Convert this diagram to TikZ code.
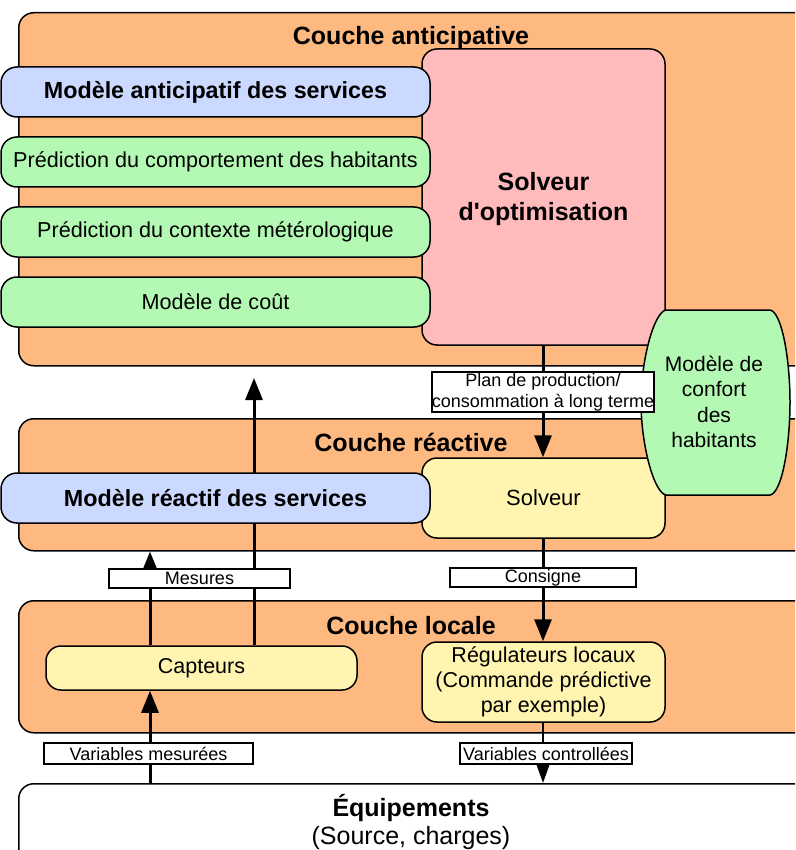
\documentclass[tikz,border=0pt]{standalone}
\usepackage{fontspec}
\setmainfont{Liberation Sans}[Ligatures=TeXOff]
\usetikzlibrary{arrows.meta}
\definecolor{orangeL}{HTML}{FDB97F}
\definecolor{blueM}{HTML}{CCD9FF}
\definecolor{greenM}{HTML}{B3F9B3}
\definecolor{pinkS}{HTML}{FFBBBB}
\definecolor{yellowS}{HTML}{FFF5B0}
\tikzset{
  layer/.style={draw=black, line width=1.5pt, fill=orangeL, rounded corners=15pt, inner sep=0pt},
  box/.style={draw=black, line width=1.5pt, rounded corners=16pt, inner sep=0pt, align=center},
  lbl/.style={draw=black, line width=1.2pt, fill=white, inner sep=0pt, align=center, font=\fontsize{18}{21}\selectfont},
  title/.style={font=\fontsize{25}{28}\selectfont\bfseries, inner sep=0pt},
  arr/.style={line width=3pt, -{Triangle[length=22pt,width=17pt]}},
}
\begin{document}
\begin{tikzpicture}[x=1pt,y=-1pt]
\clip (0,0) rectangle (795,850);
\fill[white] (0,0) rectangle (795,850);
% layers
\node[layer, minimum width=800pt, minimum height=353pt, anchor=north west] (antic) at (18,12) {};
\node[layer, minimum width=800pt, minimum height=132pt, anchor=north west] (react) at (18,418) {};
\node[layer, minimum width=800pt, minimum height=132pt, anchor=north west] (local) at (18,600) {};
\node[layer, fill=white, minimum width=800pt, minimum height=100pt, anchor=north west] (equip) at (18,783) {};
\node[title] (tantic) at (411,38) {Couche anticipative};
\node[title] (treact) at (411,442) {Couche réactive};
\node[title] (tlocal) at (411,626) {Couche locale};
\node[title] (tequip) at (411,808) {Équipements};
\node[font=\fontsize{25}{28}\selectfont, inner sep=0pt] (tequip2) at (411,838) {(Source, charges)};
% reference x positions
\coordinate (xa) at (150,0);
\coordinate (xb) at (254,0);
\coordinate (xc) at (543,0);
\coordinate (tipb) at (254,378);
% inner boxes (under)
\node[box, fill=pinkS, rounded corners=15pt, minimum width=243pt, minimum height=296pt, font=\fontsize{25}{30}\selectfont\bfseries] (solvopt) at (543.5,197) {};
\node[align=center, inner sep=0pt, font=\fontsize{25}{30}\selectfont\bfseries] (solvopttxt) at (543.5,199) {Solveur\\d'optimisation};
\node[box, fill=yellowS, rounded corners=15pt, minimum width=243pt, minimum height=80pt, font=\fontsize{22}{25}\selectfont] (solv) at (543.5,498) {Solveur};
\node[box, fill=yellowS, rounded corners=15pt, minimum width=243pt, minimum height=80pt, font=\fontsize{21.5}{25}\selectfont] (reg) at (543.5,682) {Régulateurs locaux\\(Commande prédictive\\par exemple)};
\node[box, fill=yellowS, rounded corners=15pt, minimum width=311pt, minimum height=44pt, font=\fontsize{21.5}{25}\selectfont] (capt) at (201.5,668) {Capteurs};
% arrows
\draw[arr] (capt.north -| xb) -- (tipb);
\draw[arr] (capt.north -| xa) -- (react.south -| xa);
\draw[arr] (equip.north -| xa) -- (capt.south -| xa);
\draw[arr] (solvopt.south -| xc) -- (solv.north -| xc);
\draw[arr] (solv.south -| xc) -- (reg.north -| xc);
\draw[line width=2.2pt, -{Triangle[length=19pt,width=13pt]}] (reg.south -| xc) -- (equip.north -| xc);
% model boxes
\node[box, fill=blueM, minimum width=429pt, minimum height=50pt, font=\fontsize{23.3}{26}\selectfont\bfseries] (mas) at (215.5,92) {Modèle anticipatif des services};
\node[box, fill=greenM, minimum width=429pt, minimum height=50pt, font=\fontsize{21.6}{25}\selectfont] (pch) at (215.5,162) {Prédiction du comportement des habitants};
\node[box, fill=greenM, minimum width=429pt, minimum height=50pt, font=\fontsize{21.6}{25}\selectfont] (pcm) at (215.5,232) {Prédiction du contexte métérologique};
\node[box, fill=greenM, minimum width=429pt, minimum height=50pt, font=\fontsize{21.6}{25}\selectfont] (cout) at (215.5,302) {Modèle de coût};
\node[box, fill=blueM, minimum width=429pt, minimum height=50pt, font=\fontsize{23.3}{26}\selectfont\bfseries] (mrs) at (215.5,498) {Modèle réactif des services};
% confort barrel
\draw[line width=1.5pt, fill=greenM] (666,310) -- (770,310) .. controls (782,312) and (790,360) .. (790,402) .. controls (790,445) and (782,493) .. (770,495) -- (666,495) .. controls (654,493) and (641,445) .. (641,402) .. controls (641,360) and (654,312) .. (666,310) -- cycle;
\node[align=center, font=\fontsize{21}{25.3}\selectfont, inner sep=0pt] (conf) at (714,402) {Modèle de\\confort\\des\\habitants};
% labels
\node[lbl, minimum width=220pt, minimum height=40pt] (plan) at (543,392) {Plan de production/\\consommation à long terme};
\node[lbl, minimum width=181pt, minimum height=19pt] (mes) at (199.5,578.5) {Mesures};
\node[lbl, minimum width=186pt, minimum height=19pt] (cons) at (543,577.5) {Consigne};
\node[lbl, minimum width=209pt, minimum height=21pt] (varm) at (148.5,753.5) {Variables mesurées};
\node[lbl, minimum width=172pt, minimum height=21pt] (varc) at (546,753.5) {Variables controllées};
\end{tikzpicture}
\end{document}
